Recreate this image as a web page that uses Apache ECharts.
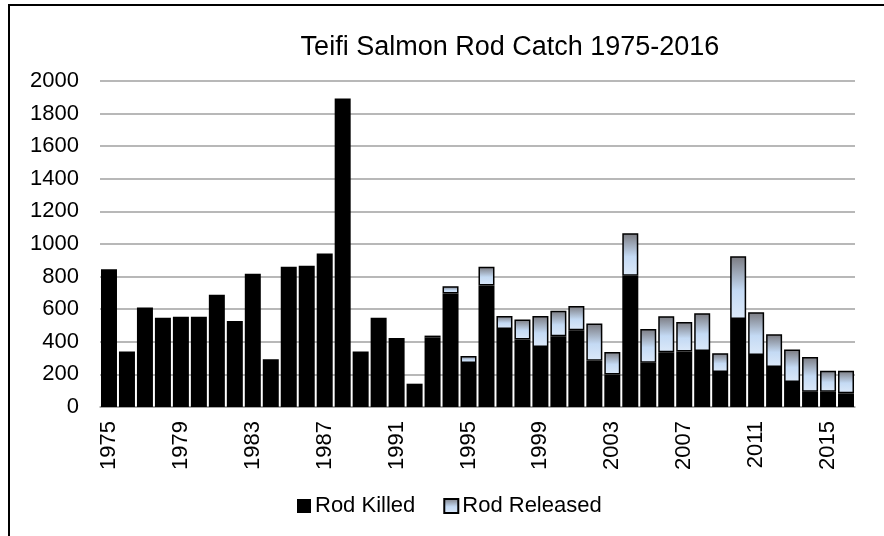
<!DOCTYPE html>
<html>
<head>
<meta charset="utf-8">
<script src="https://cdn.jsdelivr.net/npm/echarts@6/dist/echarts.min.js"></script>
<style>
  html, body { margin: 0; padding: 0; background: #fff; }
  #chart { width: 884px; height: 536px; }
</style>
</head>
<body>
<div id="chart"></div>
<script>
// years on the x axis
const years = ['1975', '1976', '1977', '1978', '1979', '1980', '1981', '1982', '1983', '1984',
  '1985', '1986', '1987', '1988', '1989', '1990', '1991', '1992', '1993', '1994',
  '1995', '1996', '1997', '1998', '1999', '2000', '2001', '2002', '2003', '2004',
  '2005', '2006', '2007', '2008', '2009', '2010', '2011', '2012', '2013', '2014',
  '2015', '2016']

// fish killed per season
const rodKilled = [845, 340, 610, 547, 553, 553, 688, 528, 817, 293,
  860, 866, 942, 1893, 340, 547, 424, 143, 426, 696,
  270, 745, 479, 414, 368, 434, 471, 283, 199, 805,
  272, 336, 340, 344, 215, 540, 319, 246, 154, 94,
  94, 84]

// catch & release (none recorded before 1993)
const rodReleased = [null, null, null, null, null, null, null, null, null, null,
  null, null, null, null, null, null, null, null, 12, 45,
  43, 115, 80, 123, 191, 156, 149, 229, 139, 261,
  207, 221, 182, 231, 115, 385, 262, 200, 198, 213,
  129, 139]

const yTicks = [0, 200, 400, 600, 800, 1000, 1200, 1400, 1600, 1800, 2000]

const chart = echarts.init(document.getElementById('chart'))
const font = 'Liberation Sans, Arial, sans-serif'

const releasedFill = new echarts.graphic.LinearGradient(0, 0, 0, 1, [
  { offset: 0, color: '#7a7a80' },
  { offset: 0.55, color: '#c4daf4' },
  { offset: 1, color: '#dce9f9' }
])

const option = {
  backgroundColor: '#fff',
  animation: false,
  title: {
    text: 'Teifi Salmon Rod Catch 1975-2016',
    left: 505,
    top: 29,
    textAlign: 'center',
    textStyle: { fontFamily: font, fontSize: 27, fontWeight: 'normal', color: '#000' }
  },
  legend: {
    left: 292,
    top: 490,
    icon: 'rect',
    itemWidth: 14,
    itemHeight: 14,
    itemGap: 28,
    textStyle: { fontFamily: font, fontSize: 22, color: '#000', padding: [0, 0, 0, -1] },
    data: ['Rod Killed', 'Rod Released']
  },
  graphic: [{
    type: 'rect',
    shape: { x: 9, y: 5, width: 900, height: 600 },
    style: { fill: 'none', stroke: '#000', lineWidth: 2 },
    silent: true
  }],
  grid: { left: 100, right: 29, top: 81, bottom: 129 },
  xAxis: {
    type: 'category',
    data: years,
    axisLine: { lineStyle: { color: '#a0a0a0', width: 1.5 } },
    axisTick: { show: false },
    axisLabel: {
      interval: 3,
      rotate: 90,
      margin: 14,
      fontFamily: font,
      fontSize: 22,
      color: '#000'
    }
  },
  yAxis: {
    type: 'value',
    min: yTicks[0],
    max: yTicks[yTicks.length - 1],
    interval: 200,
    axisLine: { show: false },
    axisTick: { show: false },
    axisLabel: {
      margin: 21,
      fontFamily: font,
      fontSize: 22,
      color: '#000',
      formatter: (v) => String(v)
    },
    splitLine: { lineStyle: { color: '#a0a0a0', width: 1.5 } }
  },
  series: [
    {
      name: 'Rod Killed',
      type: 'bar',
      stack: 'catch',
      barCategoryGap: '11%',
      data: rodKilled,
      itemStyle: { color: '#000' }
    },
    {
      name: 'Rod Released',
      type: 'bar',
      stack: 'catch',
      barCategoryGap: '11%',
      data: rodReleased,
      itemStyle: {
        color: releasedFill,
        borderColor: '#000',
        borderWidth: 1.5
      }
    }
  ]
}

chart.setOption(option)
</script>
</body>
</html>
